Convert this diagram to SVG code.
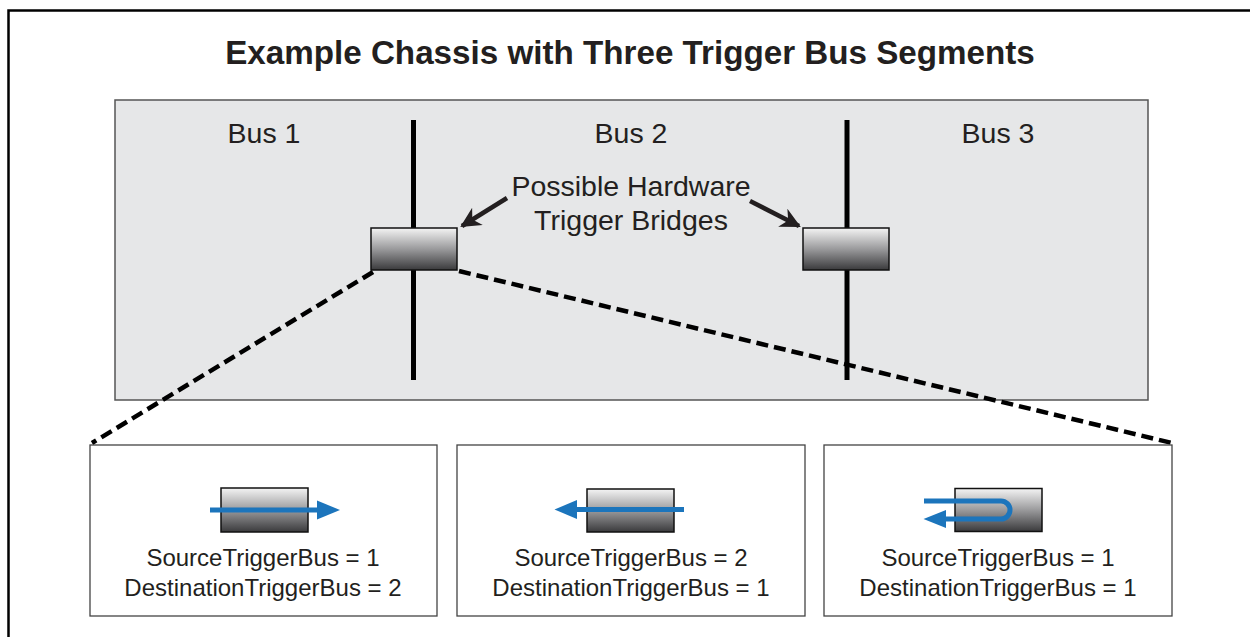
<svg xmlns="http://www.w3.org/2000/svg" width="1250" height="637" viewBox="0 0 1250 637">
<defs>
<linearGradient id="bg" x1="0" y1="0" x2="0" y2="1">
<stop offset="0" stop-color="#f4f4f4"/>
<stop offset="0.5" stop-color="#9a9a9c"/>
<stop offset="1" stop-color="#3a3a3c"/>
</linearGradient>
<marker id="bk" viewBox="0 0 10 10" refX="9" refY="5" markerWidth="4.5" markerHeight="4.5" orient="auto" markerUnits="strokeWidth">
<path d="M0,0 L10,5 L0,10 L3,5 Z" fill="#231f20"/>
</marker>
<style>
.t{font-family:"Liberation Sans",Arial,sans-serif;fill:#231f20;text-anchor:middle}
.bridge{fill:url(#bg);stroke:#111;stroke-width:1.5}
.box{fill:#fff;stroke:#444;stroke-width:1.3}
.bar{stroke:#000;stroke-width:5}
.dash{stroke:#000;stroke-width:4.5;stroke-dasharray:12 6;fill:none}
.blue{stroke:#1c75bc;stroke-width:5;fill:none}
.bh{fill:#1c75bc}
</style>
</defs>
<rect width="1250" height="637" fill="#fff"/>
<path d="M8.5,640 V10.5 H1252" fill="none" stroke="#000" stroke-width="2.5"/>
<text class="t" x="630" y="64" font-size="33.2" font-weight="bold">Example Chassis with Three Trigger Bus Segments</text>
<g id="chassis">
<rect x="115" y="100" width="1033" height="300" fill="#e6e7e8" stroke="#555" stroke-width="1.5"/>
<text class="t" x="264" y="143" font-size="28.5">Bus 1</text>
<text class="t" x="631" y="143" font-size="28.5">Bus 2</text>
<text class="t" x="998" y="143" font-size="28.5">Bus 3</text>
<line class="bar" x1="413.5" y1="120" x2="413.5" y2="380"/>
<line class="bar" x1="847" y1="120" x2="847" y2="380"/>
<text class="t" x="631" y="196" font-size="28.5">Possible Hardware</text>
<text class="t" x="631" y="230" font-size="28.5">Trigger Bridges</text>
</g>
<g id="bridge1"><rect class="bridge" x="371" y="228" width="86" height="42"/></g>
<g id="bridge2"><rect class="bridge" x="803" y="228" width="86" height="42"/></g>
<g id="connectors">
<line x1="507" y1="198" x2="462" y2="226" stroke="#231f20" stroke-width="4.5" marker-end="url(#bk)"/>
<line x1="750" y1="201" x2="799" y2="226" stroke="#231f20" stroke-width="4.5" marker-end="url(#bk)"/>
<line class="dash" x1="373" y1="272" x2="92" y2="443"/>
<line class="dash" x1="459" y1="271" x2="1172" y2="443"/>
</g>
<g id="case1">
<rect class="box" x="90" y="445" width="347" height="171"/>
<rect class="bridge" x="221" y="488" width="87" height="44"/>
<line class="blue" x1="210" y1="510" x2="320" y2="510"/>
<path class="bh" d="M317,500.5 L340,510 L317,519.5 Z"/>
<text class="t" x="263" y="566" font-size="24">SourceTriggerBus = 1</text>
<text class="t" x="263" y="596" font-size="24">DestinationTriggerBus = 2</text>
</g>
<g id="case2">
<rect class="box" x="457" y="445" width="348" height="171"/>
<rect class="bridge" x="587" y="489" width="87" height="43"/>
<line class="blue" x1="684" y1="509.5" x2="574" y2="509.5"/>
<path class="bh" d="M577,500 L554.5,509.5 L577,519 Z"/>
<text class="t" x="631" y="566" font-size="24">SourceTriggerBus = 2</text>
<text class="t" x="631" y="596" font-size="24">DestinationTriggerBus = 1</text>
</g>
<g id="case3">
<rect class="box" x="824" y="445" width="348" height="171"/>
<rect class="bridge" x="955" y="488.5" width="87" height="43"/>
<path class="blue" d="M924,501 H1001 A9,9 0 0 1 1001,519 H943"/>
<path class="bh" d="M946,510 L923.5,519 L946,528 Z"/>
<text class="t" x="998" y="566" font-size="24">SourceTriggerBus = 1</text>
<text class="t" x="998" y="596" font-size="24">DestinationTriggerBus = 1</text>
</g>
</svg>
